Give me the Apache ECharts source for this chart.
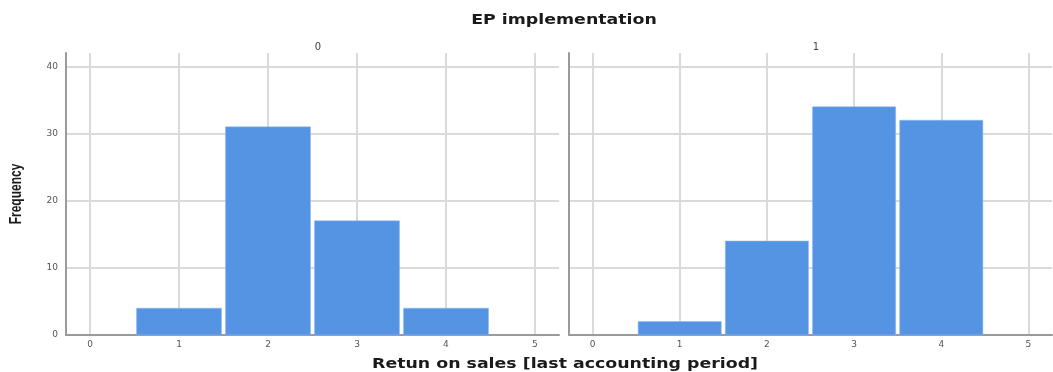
<!DOCTYPE html>
<html><head><meta charset="utf-8">
<script src="https://cdn.jsdelivr.net/npm/echarts@6/dist/echarts.min.js"></script>
<style>html,body{margin:0;padding:0;background:#fff}#c{width:1053px;height:372px}</style>
</head><body><div id="c"></div>
<script>
const binCenters = [1, 2, 3, 4];
const freqGroup0 = [4, 31, 17, 4];
const freqGroup1 = [2, 14, 34, 32];
const panelLabels = ['0', '1'];
const mainTitle = 'EP implementation';
const xTitle = 'Retun on sales [last accounting period]';
const yTitle = 'Frequency';

const chart = echarts.init(document.getElementById('c'));
const barColor = '#5594e3';
const gridColor = '#dadada';
const axisColor = '#9a9a9a';
const labelStyle = {color: '#555', fontSize: 9, fontFamily: 'DejaVu Sans'};

function renderBar(params, api) {
  const x = api.value(0), v = api.value(1);
  const p0 = api.coord([x - 0.5, v]);
  const p1 = api.coord([x + 0.5, 0]);
  const gap = 2;
  return {type: 'rect', shape: {x: p0[0] + gap, y: p0[1], width: p1[0] - p0[0] - 2 * gap, height: p1[1] - p0[1]},
    style: {fill: barColor, stroke: '#8fb8ee', lineWidth: 0.5}};
}

function xAxisCfg(idx) {
  return {type: 'value', gridIndex: idx, min: -0.27, max: 5.27,
    axisLine: {show: true, onZero: false, lineStyle: {color: axisColor, width: 2}},
    axisTick: {show: false},
    axisLabel: Object.assign({margin: 5, showMinLabel: false, showMaxLabel: false}, labelStyle),
    splitLine: {show: true, showMinLine: false, showMaxLine: false, lineStyle: {color: gridColor, width: 2}}};
}
function yAxisCfg(idx) {
  return {type: 'value', gridIndex: idx, min: 0, max: 42, interval: 10,
    axisLine: {show: true, onZero: false, lineStyle: {color: axisColor, width: 2}},
    axisTick: {show: false},
    axisLabel: Object.assign({show: idx === 0, margin: 8, showMaxLabel: false}, labelStyle),
    splitLine: {show: true, showMaxLine: false, lineStyle: {color: gridColor, width: 2}}};
}

function stretchedText(text, x, y, font, opts) {
  return Object.assign({type: 'text', x: x, y: y, silent: true,
    style: {text: text, x: 0, y: 0, font: font, fill: '#1a1a1a', align: 'center', verticalAlign: 'middle',
      textAlign: 'center', textVerticalAlign: 'middle'}}, opts);
}

chart.setOption({
  animation: false,
  title: [
    {text: panelLabels[0], left: 313, top: 37, textAlign: 'center', textStyle: {fontSize: 10, fontWeight: 'normal', color: '#444', fontFamily: 'DejaVu Sans'}},
    {text: panelLabels[1], left: 811, top: 37, textAlign: 'center', textStyle: {fontSize: 10, fontWeight: 'normal', color: '#444', fontFamily: 'DejaVu Sans'}}
  ],
  graphic: [
    stretchedText(mainTitle, 564, 20, 'bold 14px "DejaVu Sans"', {scaleX: 1.24}),
    stretchedText(xTitle, 565, 364, 'bold 14px "DejaVu Sans"', {scaleX: 1.24}),
    stretchedText(yTitle, 16, 194, 'bold 12px "Liberation Sans"', {rotation: Math.PI / 2, scaleY: 1.4})
  ],
  grid: [
    {left: 66, right: 494, top: 53, bottom: 37},
    {left: 569, right: 1, top: 53, bottom: 37}
  ],
  xAxis: [xAxisCfg(0), xAxisCfg(1)],
  yAxis: [yAxisCfg(0), yAxisCfg(1)],
  series: [
    {type: 'custom', xAxisIndex: 0, yAxisIndex: 0, renderItem: renderBar, data: binCenters.map((c, i) => [c, freqGroup0[i]])},
    {type: 'custom', xAxisIndex: 1, yAxisIndex: 1, renderItem: renderBar, data: binCenters.map((c, i) => [c, freqGroup1[i]])}
  ]
});
</script></body></html>
